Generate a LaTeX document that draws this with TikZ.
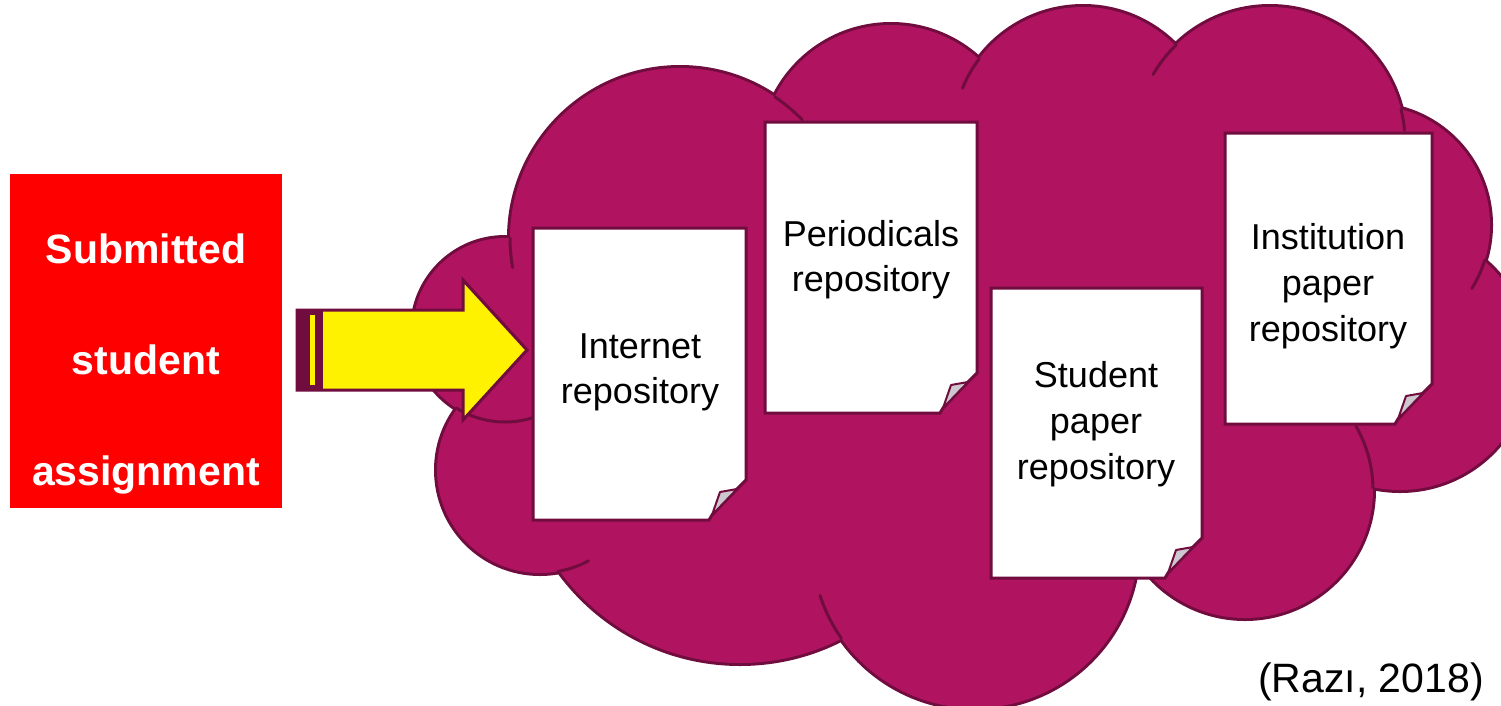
\documentclass[tikz,border=0pt]{standalone}
\usepackage{fontspec}
\setmainfont{Liberation Sans}
\definecolor{cloudfill}{RGB}{176,19,96}
\definecolor{cloudline}{RGB}{112,12,62}
\definecolor{flapgray}{RGB}{205,200,208}
\definecolor{boxred}{RGB}{255,0,0}
\tikzset{
  pagebox/.style={fill=white, draw=cloudline, line width=3pt, line join=miter},
  flap/.style={fill=flapgray, draw=cloudline, line width=2pt, line join=round},
  pagetext/.style={font=\fontsize{36}{43}\selectfont, text=black, inner sep=0pt, anchor=base},
  boxtext/.style={font=\bfseries\fontsize{41}{49}\selectfont, text=white, inner sep=0pt, anchor=base},
  tail/.style={draw=cloudline, line width=3pt, line cap=round},
  cloudedge/.style={draw=cloudline, line width=6pt},
}
\newcommand{\docpage}[4]{%
  \filldraw[pagebox] (#1,#2) -- (#3,#2) -- (#3,#4-40) -- (#3-9,#4-31) -- (#3-34,#4-5) -- (#3-37,#4) -- (#1,#4) -- cycle;
  \filldraw[flap] (#3-9,#4-31) -- (#3-26,#4-28) -- (#3-34,#4-5) -- cycle;
}
\begin{document}
\begin{tikzpicture}[x=1pt,y=-1pt]
\useasboundingbox (0,0) rectangle (1501,705);
\fill[white] (0,0) rectangle (1501,705);
\clip (0,0) rectangle (1501,705);

% red box
\fill[boxred] (10,174) rectangle (282,508);

% cloud: outline pass
\foreach \cx/\cy/\r in {680/238/170, 891/155/130, 1083/137/130, 1270/142/135, 1370/225/120, 1400/360/130, 1245/490/128, 975/545/163, 740/440/223, 540/470/103, 505/330/92}
  \draw[cloudedge] (\cx,\cy) circle[radius=\r pt];
% cloud: fill pass
\foreach \cx/\cy/\r in {680/238/170, 891/155/130, 1083/137/130, 1270/142/135, 1370/225/120, 1400/360/130, 1245/490/128, 975/545/163, 740/440/223, 540/470/103, 505/330/92}
  \fill[cloudfill] (\cx,\cy) circle[radius=\r pt];
\fill[cloudfill] (960,350) ellipse[x radius=420pt, y radius=220pt];

% inner arcs of the cloud
\draw[tail] plot[domain=-56:-44, samples=12] ({680+170*cos(\x)},{238+170*sin(\x)});
\draw[tail] plot[domain=-134:-150, samples=12] ({1270+135*cos(\x)},{142+135*sin(\x)});
\draw[tail] plot[domain=-14:-5, samples=8] ({1270+135*cos(\x)},{142+135*sin(\x)});
\draw[tail] plot[domain=-1:-30, samples=14] ({1245+128*cos(\x)},{490+128*sin(\x)});
\draw[tail] plot[domain=145:162, samples=12] ({975+163*cos(\x)},{545+163*sin(\x)});
\draw[tail] plot[domain=80:62, samples=12] ({540+103*cos(\x)},{470+103*sin(\x)});
\draw[tail] plot[domain=122:72, samples=20] ({505+92*cos(\x)},{330+92*sin(\x)});
\draw[tail] plot[domain=180:170, samples=8] ({680+170*cos(\x)},{238+170*sin(\x)});
\draw[tail] plot[domain=-143:-158, samples=10] ({1083+130*cos(\x)},{137+130*sin(\x)});
\draw[tail] plot[domain=17:32, samples=10] ({1370+120*cos(\x)},{225+120*sin(\x)});

% documents
\docpage{533}{228}{746}{520}
\docpage{765}{122}{977}{413}
\docpage{991}{288}{1202}{578}
\docpage{1225}{133}{1432}{424}

% arrow
\filldraw[fill=yellow, draw=cloudline, line width=3pt, line join=miter]
  (297,310) -- (463,310) -- (463,280) -- (527,350) -- (463,420) -- (463,390) -- (297,390) -- cycle;
\fill[cloudline] (297,310) rectangle (323,390);
\fill[yellow] (310,315) rectangle (315,385);

% texts
\node[boxtext] (sub1) at (146,263) {Submitted};
\node[boxtext] (sub2) at (146,374) {student};
\node[boxtext] (sub3) at (146,485) {assignment};

\node[pagetext] (p1a) at (640,358) {Internet};
\node[pagetext] (p1b) at (640,403) {repository};
\node[pagetext] (p2a) at (871,246) {Periodicals};
\node[pagetext] (p2b) at (871,291) {repository};
\node[pagetext] (p3a) at (1096,387) {Student};
\node[pagetext] (p3b) at (1096,433) {paper};
\node[pagetext] (p3c) at (1096,479) {repository};
\node[pagetext] (p4a) at (1328,249) {Institution};
\node[pagetext] (p4b) at (1328,295) {paper};
\node[pagetext] (p4c) at (1328,341) {repository};

\node[font=\fontsize{41}{49}\selectfont, inner sep=0pt, anchor=base east] (cite) at (1484,692) {(Razı, 2018)};
\end{tikzpicture}
\end{document}
